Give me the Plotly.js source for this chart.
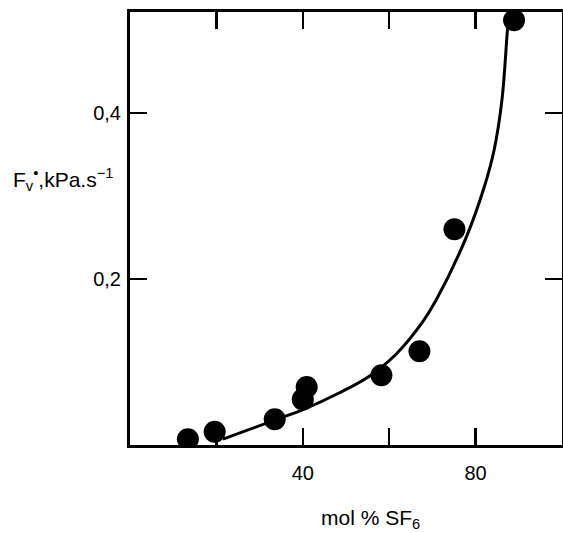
<!DOCTYPE html>
<html>
<head>
<meta charset="utf-8">
<script src="https://cdn.plot.ly/plotly-3.0.1.min.js"></script>
<style>html,body{margin:0;padding:0;background:#fff;}#chart{width:563px;height:533px;}</style>
</head>
<body>
<div id="chart"></div>
<script>
// measured points
var molPct = [13.4, 19.6, 33.5, 40.0, 40.9, 58.2, 67.0, 75.1, 88.9];
var fvRate = [0.007, 0.016, 0.031, 0.055, 0.070, 0.084, 0.113, 0.260, 0.512];
// fitted curve, as drawn
var curveX = [21.5, 33.5, 40.2, 48.5, 55.4, 61.7, 67.7, 70.9, 77.8, 82.0, 84.3, 86.1, 87.3, 87.7];
var curveY = [0.007, 0.030, 0.043, 0.063, 0.083, 0.110, 0.148, 0.175, 0.250, 0.311, 0.356, 0.416, 0.496, 0.522];
// tick labels
var xTickVals = [40, 80];
var xTickText = ['40', '80'];
var xMinorVals = [20, 60];
var yTickVals = [0.2, 0.4];
var yTickText = ['0,2', '0,4'];

var font = {family: 'Liberation Sans, Arial, sans-serif', size: 20, color: '#000'};
var titleFont = {family: 'Liberation Sans, Arial, sans-serif', size: 21, color: '#000'};

var traces = [
  {x: curveX, y: curveY, mode: 'lines', line: {color: '#000', width: 3, shape: 'spline', smoothing: 1}, hoverinfo: 'skip', cliponaxis: true},
  {x: molPct, y: fvRate, mode: 'markers', marker: {color: '#000', size: 22}, cliponaxis: true}
];

var axisCommon = {showline: true, linecolor: '#000', linewidth: 3, mirror: 'allticks', ticks: 'inside', ticklen: 17, tickwidth: 2.5, tickcolor: '#000', showgrid: false, zeroline: false, tickfont: font};

var layout = {
  width: 563, height: 533,
  margin: {l: 130, r: 1, t: 12, b: 88},
  paper_bgcolor: '#fff', plot_bgcolor: '#fff',
  showlegend: false,
  separators: ',.',
  font: font,
  xaxis: Object.assign({}, axisCommon, {range: [0, 100], tickmode: 'array', tickvals: xTickVals, ticktext: xTickText, ticklabelstandoff: 8,
    minor: {tickmode: 'array', tickvals: xMinorVals, ticks: 'inside', ticklen: 17, tickwidth: 2.5, tickcolor: '#000', showgrid: false}}),
  yaxis: Object.assign({}, axisCommon, {range: [0, 0.522], tickmode: 'array', tickvals: yTickVals, ticktext: yTickText, ticklabelstandoff: 2}),
  annotations: [
    {xref: 'paper', yref: 'paper', x: 0.556, y: -0.17, xanchor: 'center', yanchor: 'middle', showarrow: false, text: 'mol % SF<sub>6</sub>', font: titleFont},
    {xref: 'paper', yref: 'paper', x: -0.155, y: 0.613, xanchor: 'center', yanchor: 'middle', showarrow: false, text: 'F<sub>v</sub><sup>•</sup>,kPa.s<sup>−1</sup>', font: titleFont}
  ]
};

Plotly.newPlot('chart', traces, layout, {staticPlot: true, displayModeBar: false});
</script>
</body>
</html>
